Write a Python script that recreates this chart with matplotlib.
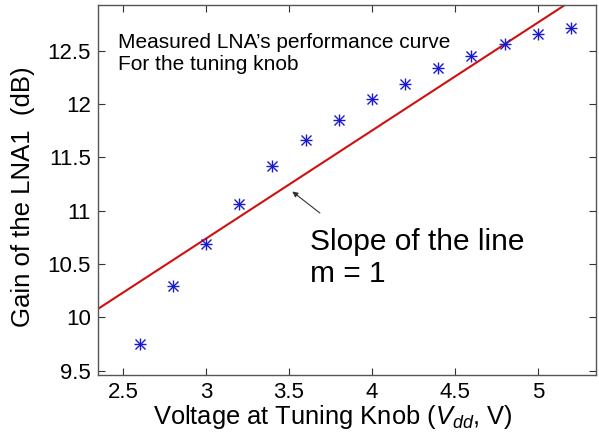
import matplotlib
matplotlib.use("Agg")
import matplotlib.pyplot as plt

plt.rcParams['font.family'] = ['Liberation Sans', 'DejaVu Sans']
plt.rcParams['mathtext.fontset'] = 'custom'
plt.rcParams['mathtext.it'] = 'Liberation Sans:italic'
plt.rcParams['mathtext.rm'] = 'Liberation Sans'

voltage = [2.6, 2.8, 3.0, 3.2, 3.4, 3.6, 3.8, 4.0, 4.2, 4.4, 4.6, 4.8, 5.0, 5.2]
gain = [9.75, 10.29, 10.69, 11.06, 11.42, 11.66, 11.85, 12.05, 12.19, 12.34, 12.45, 12.56, 12.66, 12.71]
line_x = [2.35, 5.35]
line_y = [10.08, 13.12]
xticks = [2.5, 3, 3.5, 4, 4.5, 5]
yticks = [9.5, 10, 10.5, 11, 11.5, 12, 12.5]

fig = plt.figure(figsize=(5.99, 4.32), dpi=100)
ax = fig.add_axes([98/599, 1-375/432, (596-98)/599, (375-5)/432])

ax.plot(line_x, line_y, color='#d01010', lw=1.5)
for m in ['+', 'x']:
    ax.plot(voltage, gain, linestyle='none', marker=m, color='#1a1acc',
            markersize=9 if m == '+' else 7, markeredgewidth=1.0)

ax.set_xlim(2.35, 5.35)
ax.set_ylim(9.46, 12.93)
ax.set_xticks(xticks)
ax.set_xticklabels(['2.5', '3', '3.5', '4', '4.5', '5'])
ax.set_yticks(yticks)
ax.set_yticklabels(['9.5', '10', '10.5', '11', '11.5', '12', '12.5'])
ax.tick_params(direction='in', top=True, right=True, length=5, width=0.8,
               labelsize=16, colors='#333333', labelcolor='black', pad=5)
for s in ax.spines.values():
    s.set_color('#555555')
    s.set_linewidth(1.0)

ax.set_xlabel('Voltage at Tuning Knob ($V_{dd}$, V)', fontsize=18.4)
ax.xaxis.set_label_coords(0.471, -0.075)
ax.set_ylabel('Gain of the LNA1  (dB)', fontsize=18.5)
ax.yaxis.set_label_coords(-0.126, 0.482)

ax.text(0.04, 0.925, "Measured LNA\u2019s performance curve\nFor the tuning knob",
        transform=ax.transAxes, fontsize=15, va='top', ha='left',
        linespacing=1.2)
ax.annotate('', xy=(3.507, 11.197), xytext=(3.70, 10.963),
            arrowprops=dict(arrowstyle='-|>', color='#333333', lw=0.8,
                            mutation_scale=8))
ax.text(3.627, 10.84, 'Slope of the line\nm = 1', fontsize=21.5, va='top',
        ha='left', linespacing=1.2)

fig.savefig('out.png', dpi=100)
